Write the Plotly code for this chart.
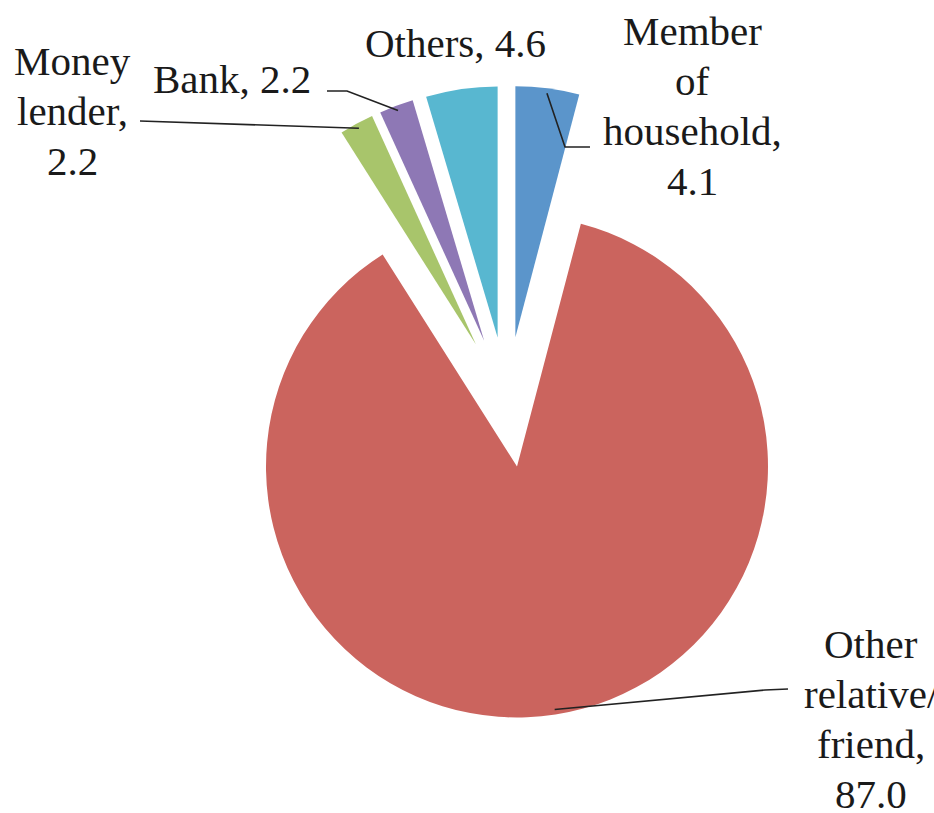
import math
import plotly.graph_objects as go

# Sources of borrowed money (%), drawn clockwise from 12 o'clock
categories = ["Member of household", "Other relative/friend", "Money lender", "Bank", "Others"]
values = [4.1, 87.0, 2.2, 2.2, 4.6]
label_words = [["Member", "of", "household,"], ["Other", "relative/", "friend,"], ["Money", "lender,"], ["Bank,"], ["Others,"]]
value_on_new_line = [True, True, True, False, False]
colors = ["#5B95CB", "#CB645E", "#A8C56B", "#8E78B5", "#58B7D0"]

W, H = 934, 813
CX, CY = 507, 402          # pie centre in pixels
PULL = 0.26                # every slice is exploded by the same amount
R = 251                    # slice radius in pixels
BOX = R * (1 + PULL)       # half-size of the square pie domain
SERIF = "Times New Roman, Liberation Serif, serif"
FONT_SIZE = 41
LINE_GAP = 50              # baseline-to-baseline distance of label lines
BASELINE_SHIFT = 14        # text-box middle sits this far above the baseline


def paper(x, y):
    return x / W, 1 - y / H


# label block: centre x and first baseline y (pixels); leader-line bends
label_pos = [(692, 45), (871, 658), (72, 75), (232, 93), (455, 57)]
leader_bends = [
    [(565, 147), (590, 147)],
    [(765, 690), (788, 689)],
    [(140, 121)],
    [(347, 91), (327, 91)],
    None,
]

fig = go.Figure(go.Pie(
    labels=categories,
    values=values,
    sort=False,
    direction="clockwise",
    rotation=0,
    pull=[PULL] * len(values),
    marker=dict(colors=colors, line=dict(width=0)),
    textinfo="none",
    hoverinfo="label+value",
    showlegend=False,
    domain=dict(
        x=[(CX - BOX) / W, (CX + BOX) / W],
        y=[(H - CY - BOX) / H, (H - CY + BOX) / H],
    ),
))

total = sum(values)
cum = 0.0
shapes = []
annotations = []
for i, v in enumerate(values):
    a0 = cum / total * 2 * math.pi
    cum += v
    a1 = cum / total * 2 * math.pi
    mid = (a0 + a1) / 2
    dx, dy = math.sin(mid), -math.cos(mid)
    apex = (CX + PULL * R * dx, CY + PULL * R * dy)
    anchor = (apex[0] + 0.98 * R * dx, apex[1] + 0.98 * R * dy)

    lines = list(label_words[i])
    if value_on_new_line[i]:
        lines.append(f"{v:.1f}")
    else:
        lines[-1] = f"{lines[-1]} {v:.1f}"

    bx, by = label_pos[i]
    for k, line in enumerate(lines):
        lx, ly = paper(bx, by + k * LINE_GAP - BASELINE_SHIFT)
        annotations.append(dict(
            x=lx, y=ly, xref="paper", yref="paper",
            text=line, showarrow=False, xanchor="center", yanchor="middle",
            font=dict(family=SERIF, size=FONT_SIZE, color="#1a1a1a"),
        ))

    if leader_bends[i]:
        pts = [anchor] + leader_bends[i]
        path = ""
        for k, p in enumerate(pts):
            px_, py_ = paper(*p)
            path += ("M" if k == 0 else " L") + f" {px_:.5f},{py_:.5f}"
        shapes.append(dict(
            type="path", path=path, xref="paper", yref="paper",
            line=dict(color="#222222", width=1.6),
        ))

fig.update_layout(
    width=W, height=H,
    margin=dict(l=0, r=0, t=0, b=0),
    paper_bgcolor="white",
    plot_bgcolor="white",
    font=dict(family=SERIF),
    shapes=shapes,
    annotations=annotations,
)

fig.write_html("out.html")
